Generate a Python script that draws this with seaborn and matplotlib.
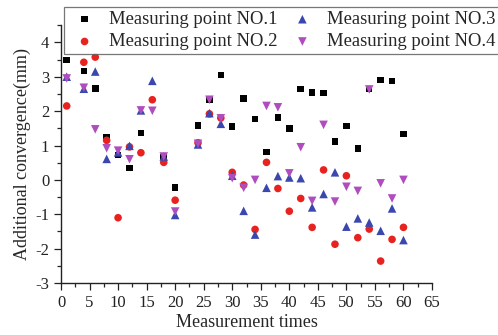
import numpy as np
import pandas as pd
import matplotlib
matplotlib.use("Agg")
import matplotlib.pyplot as plt
import seaborn as sns
from matplotlib.ticker import MultipleLocator

sns.set_theme(style="ticks")
plt.rcParams['font.family'] = ['Liberation Serif', 'DejaVu Serif']
plt.rcParams['axes.unicode_minus'] = False

times = [1, 4, 6, 8, 10, 12, 14, 16, 18, 20, 24, 26, 28, 30, 32,
         34, 36, 38, 40, 42, 44, 46, 48, 50, 52, 54, 56, 58, 60]

# NO.1 has no visible mark at t=16
point1 = [3.48, 3.17, 2.66, 1.24, 0.73, 0.35, 1.36, np.nan, 0.66, -0.22, 1.58, 2.32, 3.05, 1.55, 2.37,
          1.77, 0.81, 1.81, 1.49, 2.64, 2.54, 2.52, 1.12, 1.57, 0.91, 2.64, 2.91, 2.87, 1.33]
point2 = [2.15, 3.42, 3.57, 1.15, -1.10, 0.96, 0.79, 2.33, 0.51, -0.59, 1.08, 1.92, 1.80, 0.22, -0.15,
          -1.44, 0.51, -0.25, -0.91, -0.54, -1.38, 0.29, -1.87, 0.12, -1.68, -1.43, -2.36, -1.73, -1.38]
point3 = [3.00, 2.65, 3.15, 0.61, 0.80, 0.99, 2.02, 2.88, 0.68, -1.02, 1.03, 1.94, 1.63, 0.12, -0.90,
          -1.59, -0.23, 0.11, 0.07, 0.05, -0.80, -0.41, 0.22, -1.36, -1.12, -1.24, -1.48, -0.83, -1.75]
point4 = [2.95, 2.68, 1.47, 0.92, 0.85, 0.60, 2.02, 2.01, 0.68, -0.92, 1.05, 2.33, 1.79, 0.05, -0.23,
          0.00, 2.15, 2.11, 0.19, 0.95, -0.61, 1.60, -0.63, -0.20, -0.32, 2.63, -0.10, -0.54, 0.00]

labels = ["Measuring point NO.1", "Measuring point NO.2",
          "Measuring point NO.3", "Measuring point NO.4"]
series = [point1, point2, point3, point4]
colors = ["#000000", "#E8231F", "#3A47AE", "#B04DBE"]
markers = ["s", "o", "^", "v"]
sizes = [22, 30, 38, 38]

fig = plt.figure(figsize=(4.98, 3.35), dpi=100)
ax = fig.add_axes([0.1225, 0.155, 0.745, 0.77])

for lab, vals, col, mk, sz in zip(labels, series, colors, markers, sizes):
    df = pd.DataFrame({"t": times, "v": vals}).dropna()
    sns.scatterplot(data=df, x="t", y="v", ax=ax, color=col, marker=mk, s=sz,
                    edgecolor="none", linewidth=0, label=lab)

ax.set_xlim(0, 65)
ax.set_ylim(-3, 4.5)
ax.xaxis.set_major_locator(MultipleLocator(5))
ax.xaxis.set_minor_locator(MultipleLocator(2.5))
ax.yaxis.set_minor_locator(MultipleLocator(0.5))
ax.set_yticks(range(-3, 5))
ax.tick_params(axis="both", which="major", direction="out", length=5, width=0.9,
               labelsize=12, colors="#222222")
ax.tick_params(axis="both", which="minor", direction="out", length=3, width=0.9)
for s in ["top", "right"]:
    ax.spines[s].set_visible(False)
for s in ["left", "bottom"]:
    ax.spines[s].set_linewidth(1.0)
    ax.spines[s].set_color("#222222")

ax.set_xlabel("Measurement times", fontsize=13, labelpad=2)
ax.set_ylabel("Additional convergence(mm)", fontsize=13, labelpad=3)

leg = ax.legend(loc="upper left", bbox_to_anchor=(64 / 498, 1 - 7 / 335),
                bbox_transform=fig.transFigure, ncol=2,
                fontsize=13.4, frameon=True, fancybox=False, borderpad=0.22,
                labelspacing=0.28, handletextpad=0.44, columnspacing=0.44,
                handlelength=1.77, borderaxespad=0)
leg.get_frame().set_edgecolor("#555555")
leg.get_frame().set_linewidth(0.9)

fig.savefig("out.png", dpi=100, facecolor="white")
